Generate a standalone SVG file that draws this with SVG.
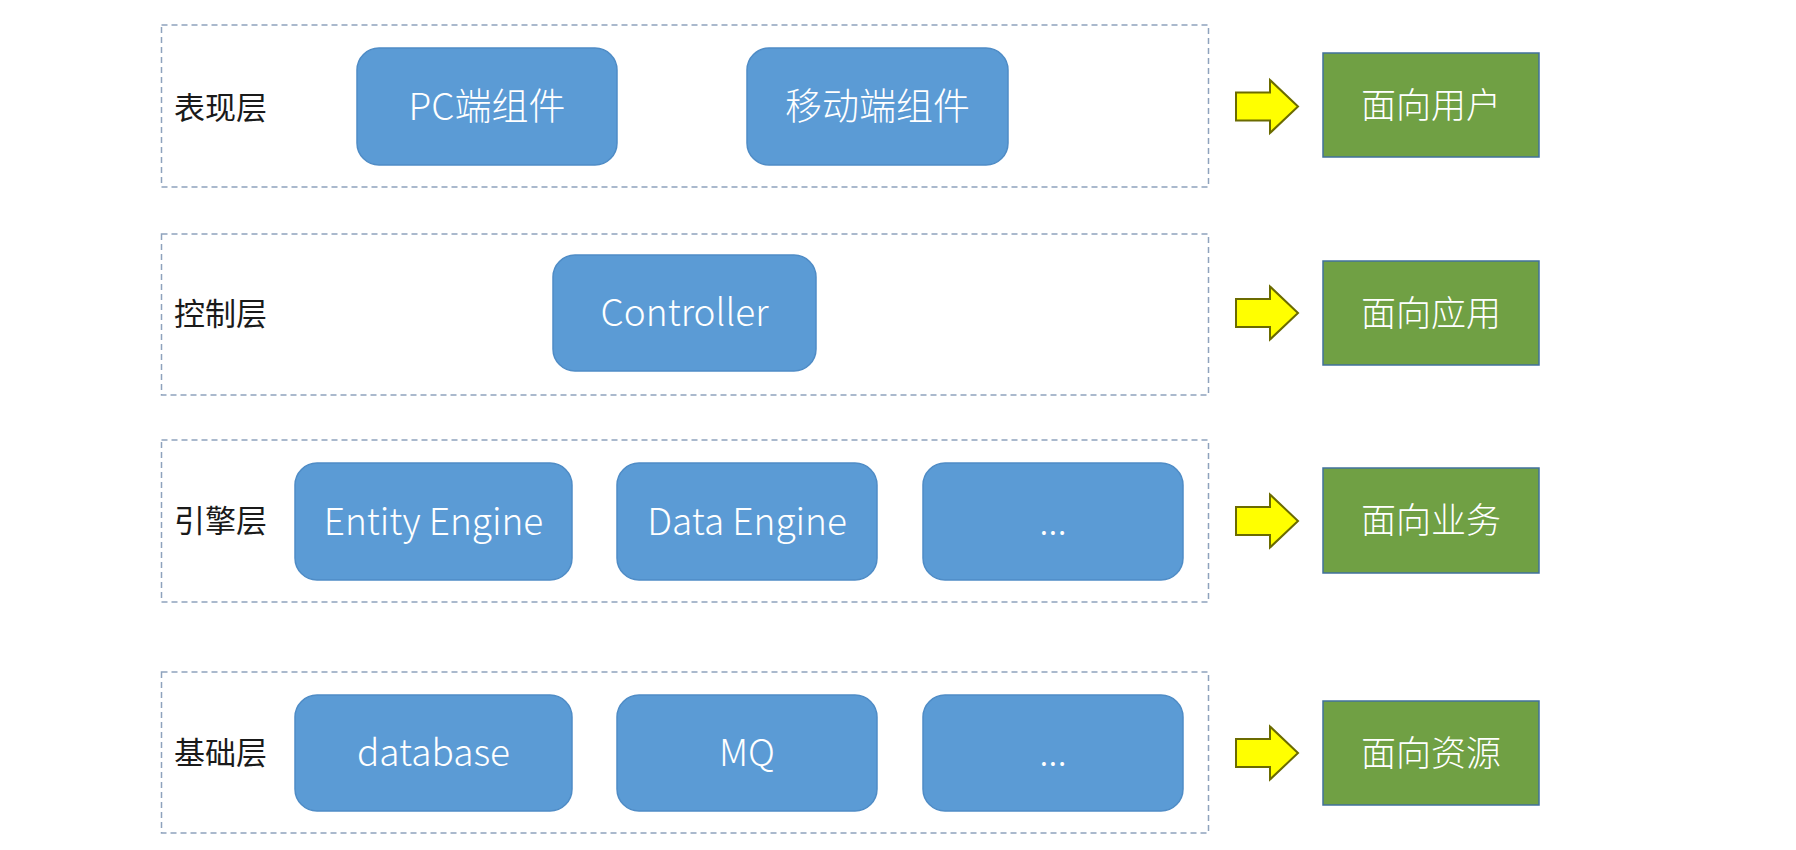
<svg xmlns="http://www.w3.org/2000/svg" width="1796" height="850" viewBox="0 0 1796 850">
<style>
.layer{fill:none;stroke:#8ea2bd;stroke-width:1.5;stroke-dasharray:6 4}
.node{fill:#5b9bd5;stroke:#4f8cc6;stroke-width:1.5}
.ntext{fill:#ffffff;font-family:"Noto Sans CJK SC","Noto Sans",sans-serif;font-size:37px;font-weight:300;text-anchor:middle;dominant-baseline:central}
.label{fill:#1a1a1a;font-family:"Noto Sans CJK SC",sans-serif;font-size:31px;dominant-baseline:central}
.green{fill:#70a044;stroke:#41719c;stroke-width:1.5}
.gtext{fill:#ffffff;font-family:"Noto Sans CJK SC",sans-serif;font-size:35px;font-weight:300;text-anchor:middle;dominant-baseline:central}
.arrow{fill:#ffff00;stroke:#6b6b00;stroke-width:2;stroke-linejoin:miter}
</style>
<defs>
<path id="arr" d="M0,-14 L34,-14 L34,-26.5 L62,0 L34,26.5 L34,14 L0,14 Z"/>
</defs>
<rect width="1796" height="850" fill="#ffffff"/>

<g id="layers">
<g id="layer-presentation">
<rect class="layer" x="161.5" y="25" width="1047" height="162"/>
<text class="label" x="174" y="105">表现层</text>
</g>
<g id="layer-control">
<rect class="layer" x="161.5" y="234" width="1047" height="161"/>
<text class="label" x="174" y="311">控制层</text>
</g>
<g id="layer-engine">
<rect class="layer" x="161.5" y="440" width="1047" height="162"/>
<text class="label" x="174" y="518">引擎层</text>
</g>
<g id="layer-base">
<rect class="layer" x="161.5" y="672" width="1047" height="161"/>
<text class="label" x="174" y="750">基础层</text>
</g>
</g>

<g id="node-pc"><rect class="node" x="357" y="48" width="260" height="117" rx="22"/><text class="ntext" x="487" y="103.5">PC端组件</text></g>
<g id="node-mobile"><rect class="node" x="747" y="48" width="261" height="117" rx="22"/><text class="ntext" x="877.5" y="103.5">移动端组件</text></g>
<g id="node-controller"><rect class="node" x="553" y="255" width="263" height="116" rx="22"/><text class="ntext" x="684.5" y="310">Controller</text></g>
<g id="node-entity"><rect class="node" x="295" y="463" width="277" height="117" rx="22"/><text class="ntext" x="433.5" y="518.5">Entity Engine</text></g>
<g id="node-data"><rect class="node" x="617" y="463" width="260" height="117" rx="22"/><text class="ntext" x="747" y="518.5">Data Engine</text></g>
<g id="node-engine-more"><rect class="node" x="923" y="463" width="260" height="117" rx="22"/><text class="ntext" x="1053" y="518.5">...</text></g>
<g id="node-database"><rect class="node" x="295" y="695" width="277" height="116" rx="22"/><text class="ntext" x="433.5" y="750">database</text></g>
<g id="node-mq"><rect class="node" x="617" y="695" width="260" height="116" rx="22"/><text class="ntext" x="747" y="750">MQ</text></g>
<g id="node-base-more"><rect class="node" x="923" y="695" width="260" height="116" rx="22"/><text class="ntext" x="1053" y="750">...</text></g>

<g id="connectors">
<use href="#arr" class="arrow" x="1236" y="106.5"/>
<use href="#arr" class="arrow" x="1236" y="313"/>
<use href="#arr" class="arrow" x="1236" y="521"/>
<use href="#arr" class="arrow" x="1236" y="753"/>
</g>

<g id="node-user"><rect class="green" x="1323" y="53" width="216" height="104"/><text class="gtext" x="1431" y="102">面向用户</text></g>
<g id="node-app"><rect class="green" x="1323" y="261" width="216" height="104"/><text class="gtext" x="1431" y="310">面向应用</text></g>
<g id="node-business"><rect class="green" x="1323" y="468" width="216" height="105"/><text class="gtext" x="1431" y="517.5">面向业务</text></g>
<g id="node-resource"><rect class="green" x="1323" y="701" width="216" height="104"/><text class="gtext" x="1431" y="750">面向资源</text></g>
</svg>
